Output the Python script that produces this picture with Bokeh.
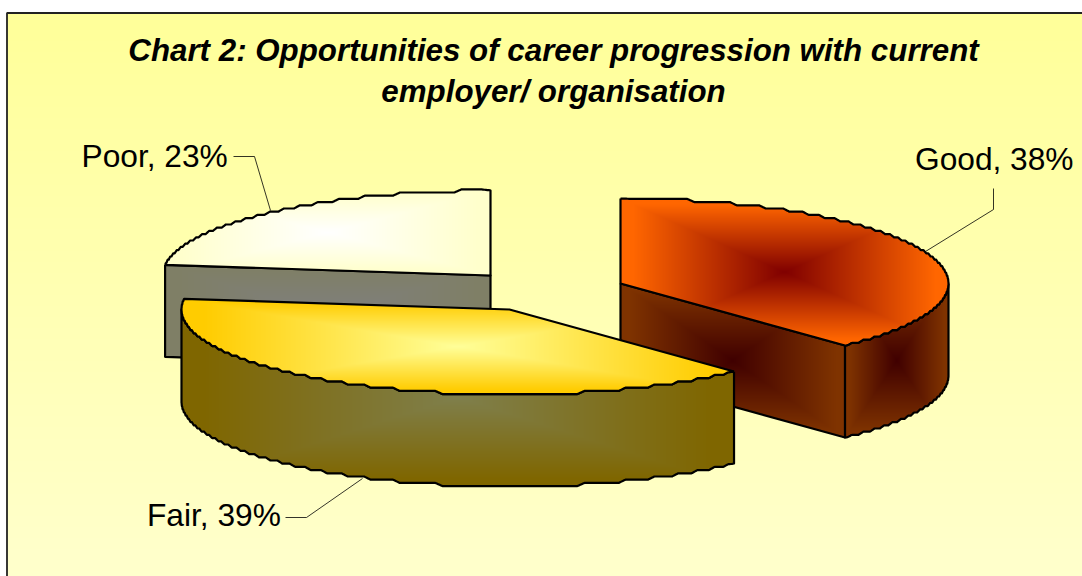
import numpy as np
from bokeh.plotting import figure
from bokeh.embed import file_html
from bokeh.resources import INLINE
from bokeh.core.properties import value

# ---- data ----
categories = ["Good", "Fair", "Poor"]
shares = [38, 39, 23]
title_lines = ["Chart 2: Opportunities of career progression with current",
               "employer/ organisation"]
top_edge = {"Good": (255, 102, 0), "Fair": (255, 204, 0), "Poor": (255, 255, 204)}
top_mid = {"Good": (128, 0, 0), "Fair": (255, 255, 153), "Poor": (255, 255, 255)}
side_edge = {"Good": (127, 51, 0), "Fair": (127, 102, 0), "Poor": (127, 127, 102)}
side_mid = {"Good": (64, 0, 0), "Fair": (127, 127, 76), "Poor": (127, 127, 127)}

# ---- layout (page pixels) ----
W, H = 1082, 576
centers = {"Good": (620, 283), "Fair": (509, 309), "Poor": (490, 275)}
RX, RY, DEPTH = 328, 85, 92
label_pos = {"Good": (914.5, 158), "Fair": (146.5, 514), "Poor": (81, 155)}
leaders = {"Good": [(993, 188), (993, 209), (925, 251)],
           "Fair": [(285, 517), (306, 517), (362, 478)],
           "Poor": [(233, 156), (254, 156), (270, 210)]}
BORDER = (6.5, 12.5)
title_base = (50, 91)


def Y(py):
    return H - np.asarray(py, dtype=float)


def arc(cat, a0, a1, dy=0.0, jag=True):
    cx, cy = centers[cat]
    t = np.radians(np.arange(a0, a1 + 0.001, 0.25))
    if t[-1] < np.radians(a1):
        t = np.append(t, np.radians(a1))
    x = cx + RX * np.sin(t)
    y = cy - RY * np.cos(t)
    if jag:
        q = np.round(y / 3.2) * 3.2
        k = 5
        pad = np.r_[np.full(k, q[0]), q, np.full(k, q[-1])]
        s = np.convolve(pad, np.ones(k) / k, mode="same")[k:-k]
        w = np.clip(np.minimum(np.arange(len(y)), np.arange(len(y))[::-1]) / 8, 0, 1)
        y = y * (1 - w) + s * w
    return np.c_[x, y + dy]


def mask_of(poly):
    m = np.zeros((H, W), dtype=bool)
    x, y = poly[:, 0], poly[:, 1]
    x2, y2 = np.roll(x, -1), np.roll(y, -1)
    for r in range(max(0, int(y.min()) - 1), min(H, int(y.max()) + 2)):
        yy = r + 0.5
        c = (y <= yy) != (y2 <= yy)
        if not c.any():
            continue
        xs = np.sort(x[c] + (yy - y[c]) * (x2[c] - x[c]) / (y2[c] - y[c]))
        for a, b in zip(xs[0::2], xs[1::2]):
            m[r, max(0, int(np.ceil(a - 0.5))):min(W, int(np.floor(b - 0.5)) + 1)] = True
    return m


def rect_gradient(poly, edge, mid):
    """Rectangular path gradient over the polygon's bounding box, masked to it."""
    x0, y0 = poly.min(axis=0)
    x1, y1 = poly.max(axis=0)
    cx, cy = (x0 + x1) / 2, (y0 + y1) / 2
    xx, yy = np.meshgrid(np.arange(W) + 0.5, np.arange(H) + 0.5)
    t = np.maximum(np.abs(xx - cx) / ((x1 - x0) / 2), np.abs(yy - cy) / ((y1 - y0) / 2))
    t = np.clip(t / 0.92, 0, 1)
    m = mask_of(poly)
    out = np.zeros((H, W, 4), dtype=np.uint8)
    for i in range(3):
        out[..., i] = np.round(mid[i] + (edge[i] - mid[i]) * t)
    out[..., 3] = m * 255
    return out


p = figure(width=W, height=H, x_range=(0, W), y_range=(0, H), output_backend="svg",
           toolbar_location=None, min_border=0,
           background_fill_color="white", border_fill_color="white", outline_line_color=None)
p.axis.visible = False
p.grid.visible = False


def paint(rgba):
    ys, xs = np.nonzero(rgba[..., 3])
    y0, y1, x0, x1 = ys.min(), ys.max() + 1, xs.min(), xs.max() + 1
    crop = np.flipud(rgba[y0:y1, x0:x1])
    img = crop.copy().view(dtype=np.uint32).reshape(crop.shape[:2])
    p.image_rgba(image=[img], x=[int(x0)], y=[float(H - y1)], dw=[int(x1 - x0)], dh=[int(y1 - y0)])


def face(poly, edge, mid):
    paint(rect_gradient(poly, edge, mid))
    closed = np.vstack([poly, poly[:1]])
    p.line(closed[:, 0], Y(closed[:, 1]), line_color="black", line_width=2.2, line_join="round")


# background
bg = np.zeros((H, W, 4), dtype=np.uint8)
bx, by = int(BORDER[0]), int(BORDER[1])
tt = np.linspace(0, 1, H - by)[:, None]
bg[by:, bx:, 0] = 255
bg[by:, bx:, 1] = 255
bg[by:, bx:, 2] = np.round(153 + (204 - 153) * tt)
bg[by:, bx:, 3] = 255
paint(bg)
p.line([BORDER[0], BORDER[0], W - 0.5], Y([H, BORDER[1], BORDER[1]]), line_color="#222222", line_width=1.8)

# slice angles, clockwise from 12 o'clock
ang = {}
start = 0.0
for c, v in zip(categories, shares):
    ang[c] = (start, start + v / sum(shares) * 360)
    start = ang[c][1]


def top_poly(c):
    a = arc(c, *ang[c])
    return np.vstack([a, [centers[c]]])


# Poor (back)
c = "Poor"
cx, cy = centers[c]
topp = top_poly(c)
e = arc(c, ang[c][0], ang[c][0], jag=False)[0]
cut = np.array([e, (cx, cy), (cx, cy + DEPTH), (e[0], e[1] + DEPTH)])
face(cut, side_edge[c], side_mid[c])
face(topp, top_edge[c], top_mid[c])

# Good (right)
c = "Good"
cx, cy = centers[c]
e = arc(c, ang[c][1], ang[c][1], jag=False)[0]
cut = np.array([(cx, cy), e, (e[0], e[1] + DEPTH), (cx, cy + DEPTH)])
face(cut, side_edge[c], side_mid[c])
rim_t = arc(c, 90, ang[c][1])
rim_b = arc(c, 90, ang[c][1], dy=DEPTH)[::-1]
face(np.vstack([rim_t, rim_b]), side_edge[c], side_mid[c])
face(top_poly(c), top_edge[c], top_mid[c])

# Fair (front)
c = "Fair"
rim_t = arc(c, ang[c][0], 270)
rim_b = arc(c, ang[c][0], 270, dy=DEPTH)[::-1]
face(np.vstack([rim_t, rim_b]), side_edge[c], side_mid[c])
face(top_poly(c), top_edge[c], top_mid[c])

# leaders and labels
for c, v in zip(categories, shares):
    pts = np.array(leaders[c], dtype=float)
    p.line(pts[:, 0], Y(pts[:, 1]), line_color="black", line_width=0.8)
    lx, ly = label_pos[c]
    p.text([lx], [H - ly], text=[f"{c}, {v}%"], text_font=value("Liberation Sans"),
           text_font_size="31.7px", text_color="black", text_baseline="alphabetic", text_align="left")

# title
for line, base in zip(title_lines, title_base):
    p.text([553], [H - base], text=[line], text_font=value("Liberation Sans"),
           text_font_size="31.3px", text_font_style="bold italic", text_color="black",
           text_align="center", text_baseline="alphabetic")

open("out.html", "w").write(file_html(p, INLINE))
